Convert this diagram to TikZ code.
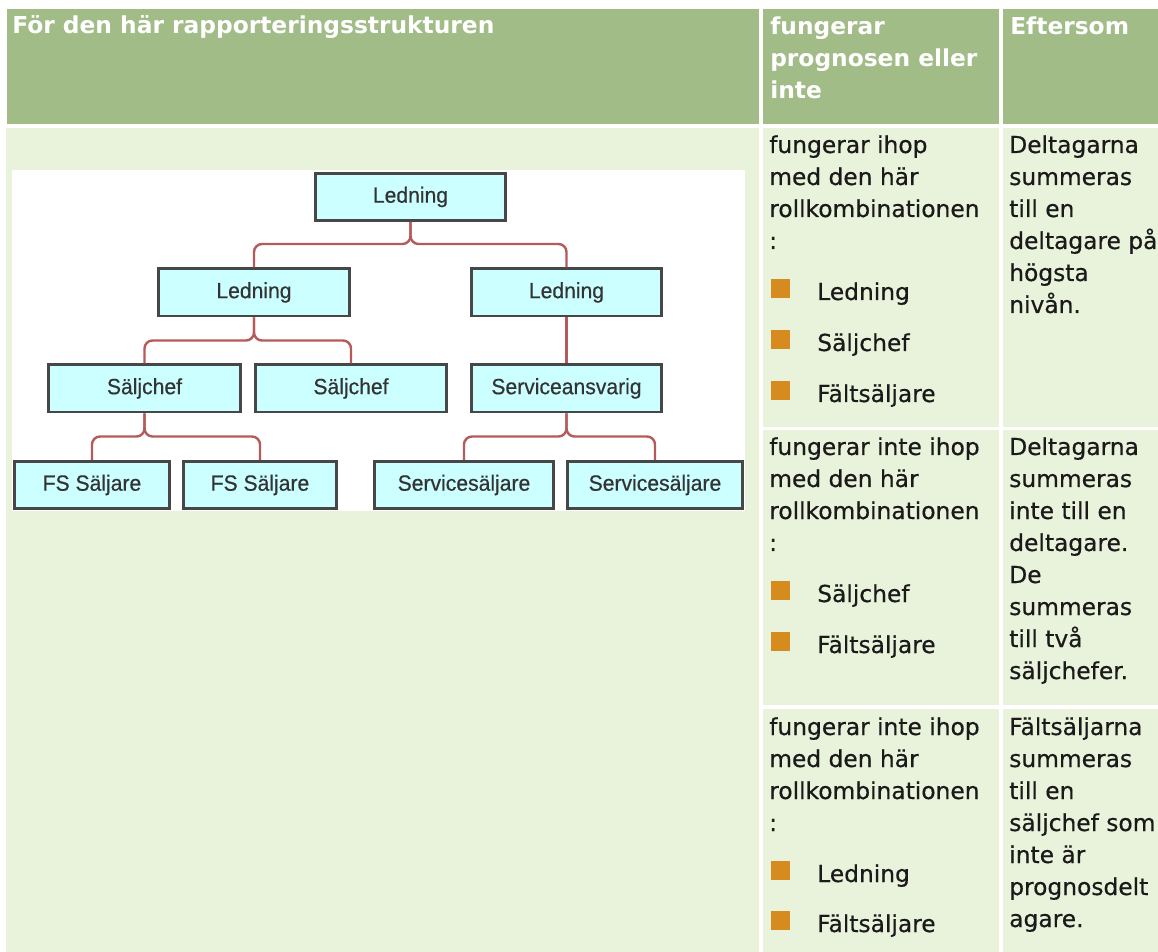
\documentclass[tikz,border=0pt]{standalone}
\usepackage{fontspec}
\setmainfont{DejaVu Sans}[UprightFeatures={FakeBold=0.5}]
\newfontfamily\diafont{Liberation Sans}[FakeStretch=0.96, FakeBold=0.5]

\definecolor{headgreen}{HTML}{A1BC87}
\definecolor{cellgreen}{HTML}{E9F2DB}
\definecolor{boxcyan}{HTML}{CCFFFF}
\definecolor{boxline}{HTML}{474747}
\definecolor{linkred}{HTML}{B55A5A}
\definecolor{bulletorange}{HTML}{D68B1F}
\definecolor{bodytext}{HTML}{1A1A1A}

\tikzset{
  hdr/.style={anchor=base west, inner sep=0, text=white,
    font=\fontsize{17.5pt}{24pt}\selectfont\bfseries},
  txt/.style={anchor=base west, inner sep=0, text=bodytext,
    font=\fontsize{17.5pt}{24pt}\selectfont},
  role/.style={draw=boxline, line width=2pt, fill=boxcyan, inner sep=0,
    minimum width=#1, minimum height=35.5pt, text=black!80,
    font=\diafont\fontsize{16.5pt}{18pt}\selectfont},
  link/.style={draw=linkred, line width=1.8pt, rounded corners=6pt},
}

\begin{document}
\begin{tikzpicture}[x=0.75pt, y=-0.75pt]
  \useasboundingbox (0,0) rectangle (1158,952);
  \clip (0,0) rectangle (1158,952);
  % table cells
  \fill[headgreen] (7,9) rectangle (759,124);
  \fill[headgreen] (763,9) rectangle (999,124);
  \fill[headgreen] (1003,9) rectangle (1170,124);
  \fill[cellgreen] (6,128) rectangle (759,960);
  \fill[cellgreen] (763,128) rectangle (999,427);
  \fill[cellgreen] (1003,128) rectangle (1170,427);
  \fill[cellgreen] (763,430) rectangle (999,705);
  \fill[cellgreen] (1003,430) rectangle (1170,705);
  \fill[cellgreen] (763,709) rectangle (999,960);
  \fill[cellgreen] (1003,709) rectangle (1170,960);
  \fill[white] (12,170) rectangle (745,511);

  % header
  \node[hdr] (hstruct) at (12,34) {För den här rapporteringsstrukturen};
  \node[hdr] (hworks1) at (770,35) {fungerar};
  \node[hdr] (hworks2) at (770,67) {prognosen eller};
  \node[hdr] (hworks3) at (770,99) {inte};
  \node[hdr] (hwhy) at (1010,35) {Eftersom};

  % org chart
  \node[role=142.5pt] (top) at (410.5,197) {Ledning};
  \node[role=143.25pt] (ml) at (254,292.5) {Ledning};
  \node[role=142.5pt] (mr) at (566.5,292.5) {Ledning};
  \node[role=144pt] (s1) at (144.5,388.5) {Säljchef};
  \node[role=143.25pt] (s2) at (351,388.5) {Säljchef};
  \node[role=142.5pt] (sa) at (566.5,388.5) {Serviceansvarig};
  \node[role=116.25pt] (f1) at (92,485) {FS Säljare};
  \node[role=114.75pt] (f2) at (260,485) {FS Säljare};
  \node[role=134.25pt] (v1) at (464,485) {Servicesäljare};
  \node[role=131.25pt] (v2) at (655,485) {Servicesäljare};

  \draw[link] (top.south) -- ++(0,22) -| (ml.north);
  \draw[link] (top.south) -- ++(0,22) -| (mr.north);
  \draw[link] (ml.south) -- ++(0,23) -| (s1.north);
  \draw[link] (ml.south) -- ++(0,23) -| (s2.north);
  \draw[link] (mr.south) -- (sa.north);
  \draw[link] (s1.south) -- ++(0,23) -| (f1.north);
  \draw[link] (s1.south) -- ++(0,23) -| (f2.north);
  \draw[link] (sa.south) -- ++(0,23) -| (v1.north);
  \draw[link] (sa.south) -- ++(0,23) -| (v2.north);

  % second column
  \foreach \t [count=\i from 0] in {fungerar ihop, med den här, rollkombinationen, :}
    \node[txt] (oka\i) at (769,{153+32*\i}) {\t};
  \foreach \t [count=\i from 0] in {fungerar inte ihop, med den här, rollkombinationen, :}
    \node[txt] (nokb\i) at (769,{455+32*\i}) {\t};
  \foreach \t [count=\i from 0] in {fungerar inte ihop, med den här, rollkombinationen, :}
    \node[txt] (nokc\i) at (769,{735+32*\i}) {\t};
  \foreach \b/\t in {300/Ledning, 351/Säljchef, 402/Fältsäljare, 602/Säljchef,
      653/Fältsäljare, 882/Ledning, 932/Fältsäljare} {
    \fill[bulletorange] (771,\b-21) rectangle ++(19,19);
    \node[txt] (bul\b) at (817,\b) {\t};
  }

  % third column
  \foreach \t [count=\i from 0] in {Deltagarna, summeras, till en, deltagare på, högsta, nivån.}
    \node[txt] (whya\i) at (1009,{153+32*\i}) {\t};
  \foreach \t [count=\i from 0] in {Deltagarna, summeras, inte till en, deltagare., De,
      summeras, till två, säljchefer.}
    \node[txt] (whyb\i) at (1009,{455+32*\i}) {\t};
  \foreach \t [count=\i from 0] in {Fältsäljarna, summeras, till en, säljchef som, inte är,
      prognosdelt, agare.}
    \node[txt] (whyc\i) at (1009,{735+32*\i}) {\t};
\end{tikzpicture}
\end{document}
